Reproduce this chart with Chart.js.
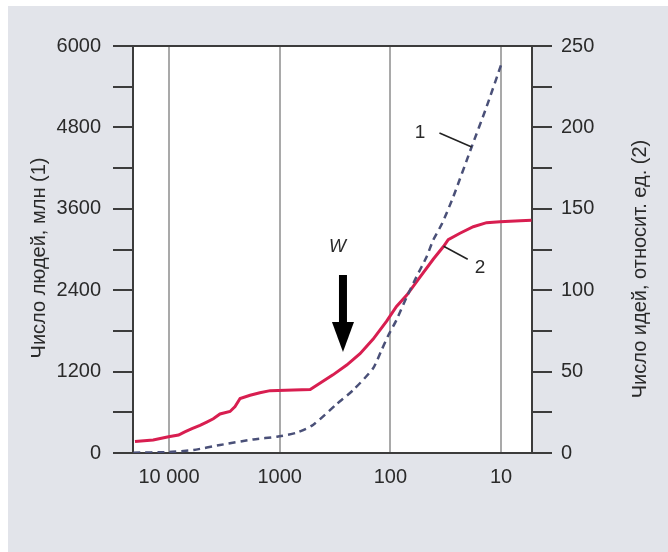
<!DOCTYPE html>
<html>
<head>
<meta charset="utf-8">
<script src="https://cdn.jsdelivr.net/npm/chart.js@4.4.1/dist/chart.umd.min.js"></script>
<style>
  html, body { margin: 0; padding: 0; background: #ffffff; }
  #wrap { position: absolute; left: 8px; top: 6px; width: 660px; height: 546px; background: #e2e4ea; }
</style>
</head>
<body>
<div id="wrap"><canvas id="ideasChart"></canvas></div>
<script>
// x axis: years ago (log scale, reversed)
const xTickValues = [10000, 1000, 100, 10];
const xTickLabels = ["10 000", "1000", "100", "10"];

// curve 1: population, mln (left axis)
const popYears = [21000, 10000, 6000, 3460, 1730, 1060, 700, 500, 305, 216, 143, 120, 104, 88, 71, 58, 47, 41, 34, 27, 18.4, 13.5, 10];
const popValues = [5, 15, 44, 118, 200, 240, 300, 413, 722, 929, 1249, 1518, 1740, 1961, 2304, 2599, 2894, 3140, 3386, 3778, 4515, 5105, 5720];

// curve 2: ideas, relative units (right axis)
const ideaYears = [20300, 13900, 10100, 8200, 7200, 6200, 5250, 4560, 3980, 3460, 2810, 2530, 2280, 1850, 1510, 1220, 750, 530, 430, 330, 248, 188, 143, 108, 88, 71, 54, 41, 33, 30, 23.5, 17.8, 13.5, 10.2, 6.7, 5.3];
const ideaValues = [7, 8, 10, 11, 13, 15, 17, 19, 21, 24, 25.5, 28.5, 33.5, 35.5, 37, 38.3, 38.7, 39, 43, 48, 54, 61, 70, 81, 90, 97, 108, 119, 127, 131, 135, 139, 141.5, 142, 142.7, 143];

const leftTitle = "Число людей, млн (1)";
const rightTitle = "Число идей, относит. ед. (2)";

const FONT = "'Liberation Sans', Arial, sans-serif";
const INK = "#2a2a2a";
const AXIS = "#3c3c3c";

const decor = {
  id: "decor",
  beforeDraw(chart) {
    const { ctx, chartArea: a } = chart;
    ctx.save();
    ctx.fillStyle = "#ffffff";
    ctx.fillRect(a.left, a.top, a.right - a.left, a.bottom - a.top);
    ctx.restore();
  },
  afterDraw(chart) {
    const { ctx, chartArea: a, scales } = chart;
    const x = scales.x, y = scales.y, y1 = scales.y1;
    ctx.save();
    // top frame line
    ctx.strokeStyle = AXIS;
    ctx.lineWidth = 2;
    ctx.beginPath();
    ctx.moveTo(a.left - 20, a.top);
    ctx.lineTo(a.right + 20, a.top);
    ctx.stroke();

    // axis titles, both reading bottom to top
    ctx.fillStyle = INK;
    ctx.font = "20px " + FONT;
    ctx.textAlign = "center";
    ctx.textBaseline = "middle";
    ctx.translate(31, 252);
    ctx.rotate(-Math.PI / 2);
    ctx.fillText(leftTitle, 0, 0);
    ctx.setTransform(1, 0, 0, 1, 0, 0);
    ctx.translate(632, 263);
    ctx.rotate(-Math.PI / 2);
    ctx.fillText(rightTitle, 0, 0);
    ctx.setTransform(1, 0, 0, 1, 0, 0);

    // label "1" with leader
    ctx.font = "19px " + FONT;
    ctx.fillText("1", x.getPixelForValue(54), y.getPixelForValue(4717));
    ctx.lineWidth = 1.5;
    ctx.strokeStyle = "#222";
    ctx.beginPath();
    ctx.moveTo(x.getPixelForValue(36), y.getPixelForValue(4717));
    ctx.lineTo(x.getPixelForValue(18.4), y.getPixelForValue(4511));
    ctx.stroke();

    // label "2" with leader
    ctx.fillText("2", x.getPixelForValue(15.5), y1.getPixelForValue(114));
    ctx.beginPath();
    ctx.moveTo(x.getPixelForValue(33), y1.getPixelForValue(127));
    ctx.lineTo(x.getPixelForValue(20), y1.getPixelForValue(119));
    ctx.stroke();

    // W and arrow
    ctx.font = "italic 18px " + FONT;
    ctx.fillText("W", x.getPixelForValue(300), y.getPixelForValue(3040));
    const ax = x.getPixelForValue(268);
    const top = y.getPixelForValue(2624);
    const tip = y.getPixelForValue(1489);
    ctx.fillStyle = "#000";
    ctx.fillRect(ax - 4, top, 8, (tip - top) - 28);
    ctx.beginPath();
    ctx.moveTo(ax - 11, tip - 30);
    ctx.lineTo(ax + 11, tip - 30);
    ctx.lineTo(ax, tip);
    ctx.closePath();
    ctx.fill();
    ctx.restore();
  }
};

new Chart(document.getElementById("ideasChart").getContext("2d"), {
  type: "line",
  data: {
    datasets: [
      {
        label: "1",
        data: popYears.map((t, i) => ({ x: t, y: popValues[i] })),
        yAxisID: "y",
        borderColor: "#4a5078",
        borderWidth: 2.5,
        borderDash: [7, 5],
        pointRadius: 0,
        tension: 0.2,
        fill: false,
      },
      {
        label: "2",
        data: ideaYears.map((t, i) => ({ x: t, y: ideaValues[i] })),
        yAxisID: "y1",
        borderColor: "#d81e50",
        borderWidth: 3,
        pointRadius: 0,
        tension: 0,
        fill: false,
      },
    ],
  },
  options: {
    responsive: true,
    maintainAspectRatio: false,
    animation: false,
    layout: { padding: { top: 40, left: 0, right: 0, bottom: 0 } },
    plugins: { legend: { display: false }, tooltip: { enabled: false } },
    scales: {
      x: {
        type: "logarithmic",
        reverse: true,
        min: 5.25,
        max: 21150,
        afterBuildTicks: (scale) => {
          scale.ticks = xTickValues.map((v) => ({ value: v }));
        },
        afterFit: (scale) => { scale.height = 99; },
        ticks: {
          autoSkip: false,
          maxRotation: 0,
          padding: 12,
          color: INK,
          font: { family: FONT, size: 20 },
          callback: (v) => xTickLabels[xTickValues.indexOf(v)],
        },
        grid: { color: "#a9a9a9", lineWidth: 2, drawTicks: false },
        border: { color: AXIS, width: 2 },
      },
      y: {
        position: "left",
        min: 0,
        max: 6000,
        afterFit: (scale) => { scale.width = 125; },
        ticks: {
          stepSize: 600,
          autoSkip: false,
          padding: 12,
          color: INK,
          font: { family: FONT, size: 20 },
          callback: (v) => (v % 1200 === 0 ? v : ""),
        },
        grid: { drawOnChartArea: false, tickLength: 20, color: AXIS, lineWidth: 2 },
        border: { color: AXIS, width: 2 },
      },
      y1: {
        position: "right",
        min: 0,
        max: 250,
        afterFit: (scale) => { scale.width = 136; },
        ticks: {
          stepSize: 25,
          autoSkip: false,
          padding: 9,
          color: INK,
          font: { family: FONT, size: 20 },
          callback: (v) => (v % 50 === 0 ? v : ""),
        },
        grid: { drawOnChartArea: false, tickLength: 20, color: AXIS, lineWidth: 2 },
        border: { color: AXIS, width: 2 },
      },
    },
  },
  plugins: [decor],
});
</script>
</body>
</html>
